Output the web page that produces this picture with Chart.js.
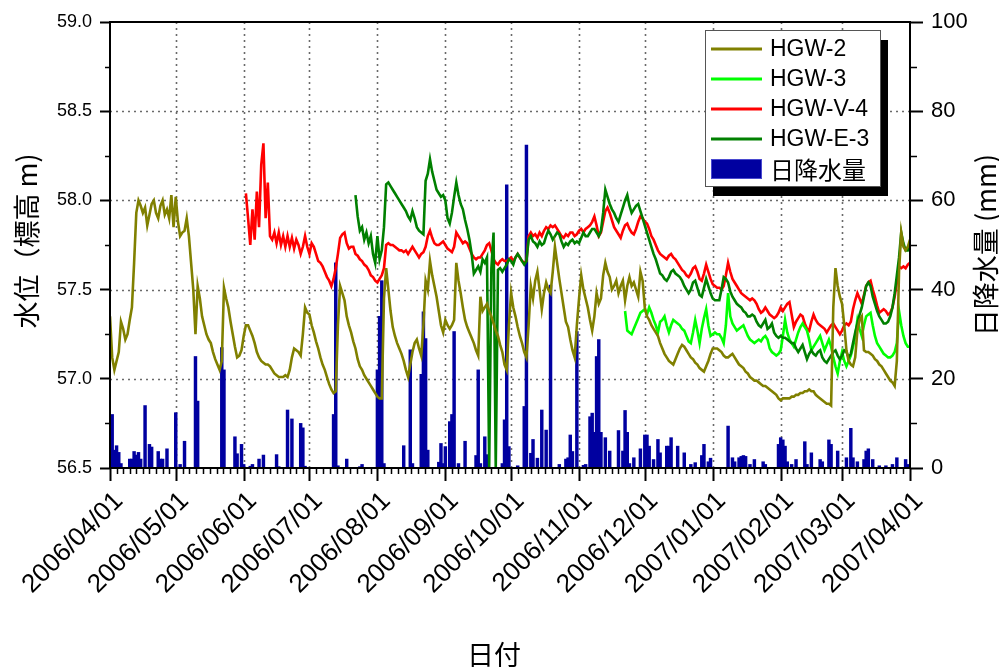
<!DOCTYPE html>
<html><head><meta charset="utf-8">
<script src="https://cdn.jsdelivr.net/npm/chart.js@4.4.1/dist/chart.umd.min.js"></script>
<style>html,body{margin:0;padding:0;background:#fff;}canvas{display:block;}</style>
</head><body>
<canvas id="c" width="999" height="671"></canvas>
<script>
// x axis: day index from 2006/04/01
const monthDays = [0,30,61,91,122,153,183,214,244,275,306,334,365];
const tickLabels = ['2006/04/01','2006/05/01','2006/06/01','2006/07/01','2006/08/01','2006/09/01','2006/10/01','2006/11/01','2006/12/01','2007/01/01','2007/02/01','2007/03/01','2007/04/01'];

const hgw2Start = 0;
const hgw2 = [
57.35,57.12,57.05,57.10,57.15,57.32,57.28,57.22,57.25,57.33,
57.40,57.65,57.93,58.00,57.97,57.93,57.96,57.86,57.92,57.98,
58.00,57.93,57.90,57.97,58.00,57.92,57.95,57.90,58.03,57.85,
58.02,57.88,57.80,57.82,57.83,57.90,57.80,57.65,57.50,57.25,
57.52,57.45,57.35,57.30,57.25,57.22,57.20,57.15,57.11,57.08,
57.05,57.10,57.51,57.45,57.40,57.32,57.25,57.18,57.12,57.13,
57.16,57.24,57.30,57.30,57.27,57.24,57.20,57.15,57.12,57.10,
57.09,57.08,57.08,57.07,57.05,57.03,57.02,57.01,57.01,57.01,
57.02,57.01,57.05,57.12,57.17,57.16,57.15,57.13,57.25,57.40,
57.37,57.36,57.30,57.26,57.21,57.17,57.12,57.08,57.05,57.01,
56.97,56.94,56.92,56.93,57.30,57.52,57.48,57.44,57.35,57.30,
57.26,57.21,57.17,57.11,57.07,57.05,57.02,57.00,56.98,56.96,
56.94,56.92,56.90,56.89,56.89,57.45,57.62,57.50,57.38,57.29,
57.24,57.20,57.17,57.14,57.10,57.05,57.01,57.08,57.15,57.20,
57.22,57.17,57.13,57.30,57.55,57.50,57.66,57.58,57.52,57.46,
57.38,57.30,57.26,57.33,57.30,57.28,57.30,57.33,57.65,57.55,
57.48,57.40,57.33,57.29,57.26,57.23,57.20,57.16,57.13,57.46,
57.38,57.40,57.42,57.38,57.35,57.31,57.27,57.24,57.19,57.15,
57.08,57.05,57.30,57.48,57.40,57.35,57.29,57.24,57.20,57.15,
57.12,57.30,57.52,57.45,57.55,57.60,57.50,57.39,57.48,57.54,
57.50,57.48,57.60,57.74,57.65,57.56,57.48,57.40,57.32,57.29,
57.22,57.16,57.12,57.30,57.45,57.58,57.50,57.45,57.40,57.33,
57.27,57.35,57.48,57.42,57.45,57.58,57.65,57.60,57.57,57.50,
57.52,57.55,57.48,57.52,57.55,57.44,57.52,57.57,57.52,57.54,
57.50,57.46,57.60,57.55,57.40,57.35,57.33,57.30,57.28,57.26,
57.24,57.20,57.17,57.14,57.12,57.10,57.09,57.08,57.11,57.14,
57.17,57.19,57.18,57.16,57.14,57.12,57.11,57.09,57.08,57.06,
57.05,57.04,57.07,57.10,57.14,57.17,57.17,57.17,57.16,57.15,
57.13,57.12,57.12,57.13,57.14,57.12,57.10,57.08,57.07,57.06,
57.04,57.03,57.01,57.00,56.99,56.99,56.98,56.97,56.96,56.96,
56.95,56.94,56.93,56.92,56.91,56.89,56.88,56.89,56.89,56.89,
56.89,56.90,56.90,56.91,56.91,56.92,56.92,56.93,56.93,56.94,
56.93,56.93,56.91,56.90,56.89,56.88,56.87,56.86,56.86,56.85,
57.40,57.62,57.52,57.46,57.42,57.30,57.16,57.10,57.08,57.07,
57.12,57.27,57.33,57.35,57.16,57.15,57.15,57.14,57.13,57.11,
57.10,57.08,57.07,57.05,57.03,57.01,56.99,56.98,56.96,57.10,
57.60,57.82,57.74,57.72,57.74,57.78];

const hgw3Start = 235;
const hgw3 = [
57.38,57.27,57.26,57.25,57.28,57.31,57.34,57.37,57.38,57.39,
57.36,57.40,57.37,57.33,57.30,57.26,57.32,57.33,57.35,57.30,
57.26,57.30,57.33,57.32,57.31,57.30,57.28,57.27,57.24,57.21,
57.20,57.26,57.33,57.27,57.20,57.28,57.34,57.39,57.30,57.24,
57.25,57.26,57.25,57.25,57.23,57.20,57.30,57.48,57.35,57.31,
57.29,57.27,57.28,57.29,57.30,57.27,57.24,57.22,57.21,57.20,
57.21,57.22,57.21,57.23,57.24,57.22,57.17,57.15,57.14,57.13,
57.14,57.16,57.24,57.33,57.26,57.22,57.20,57.18,57.22,57.26,
57.29,57.31,57.29,57.27,57.22,57.16,57.18,57.20,57.22,57.24,
57.20,57.16,57.19,57.22,57.18,57.12,57.07,57.03,57.10,57.15,
57.10,57.07,57.10,57.13,57.18,57.24,57.33,57.28,57.24,57.30,
57.35,57.36,57.37,57.30,57.24,57.20,57.18,57.16,57.14,57.13,
57.12,57.12,57.13,57.15,57.20,57.38,57.30,57.24,57.20,57.18,
57.18];

const hgwV4Start = 62;
const hgwV4 = [
58.04,57.90,57.75,57.95,57.78,58.05,57.85,58.20,58.32,57.90,
58.10,57.80,57.78,57.82,57.76,57.82,57.75,57.80,57.74,57.80,
57.74,57.79,57.73,57.78,57.75,57.70,57.74,57.80,57.74,57.70,
57.76,57.74,57.70,57.66,57.65,57.63,57.60,57.57,57.55,57.52,
57.56,57.62,57.70,57.79,57.81,57.82,57.76,57.73,57.74,57.74,
57.70,57.69,57.67,57.66,57.64,57.63,57.61,57.58,57.57,57.55,
57.54,57.56,57.58,57.62,57.75,57.76,57.75,57.75,57.74,57.73,
57.72,57.72,57.71,57.72,57.70,57.72,57.74,57.72,57.70,57.68,
57.70,57.71,57.74,57.80,57.83,57.79,57.76,57.75,57.75,57.76,
57.77,57.75,57.73,57.72,57.71,57.74,57.82,57.80,57.78,57.76,
57.77,57.76,57.73,57.70,57.68,57.67,57.68,57.68,57.70,57.72,
57.75,57.76,57.72,57.67,57.65,57.64,57.66,57.67,57.66,57.66,
57.67,57.68,57.66,57.68,57.70,57.68,57.66,57.65,57.66,57.80,
57.82,57.80,57.81,57.79,57.82,57.80,57.83,57.85,57.84,57.86,
57.85,57.86,57.84,57.82,57.80,57.79,57.81,57.80,57.82,57.82,
57.80,57.81,57.83,57.84,57.82,57.84,57.85,57.86,57.88,57.91,
57.86,57.80,57.82,57.88,57.94,57.96,57.93,57.89,57.85,57.83,
57.81,57.79,57.83,57.86,57.87,57.84,57.82,57.81,57.84,57.88,
57.91,57.90,57.88,57.87,57.84,57.80,57.78,57.75,57.72,57.70,
57.69,57.68,57.67,57.69,57.70,57.68,57.67,57.65,57.63,57.61,
57.60,57.58,57.57,57.59,57.62,57.63,57.60,57.56,57.55,57.59,
57.64,57.60,57.56,57.53,57.52,57.51,57.51,57.50,57.52,57.58,
57.65,57.60,57.56,57.54,57.52,57.50,57.48,57.47,57.46,57.45,
57.44,57.45,57.44,57.42,57.39,57.37,57.38,57.40,57.38,57.36,
57.35,57.34,57.35,57.37,57.40,57.38,57.40,57.42,57.43,57.36,
57.29,57.32,57.34,57.36,57.35,57.31,57.28,57.27,57.32,57.36,
57.33,57.31,57.30,57.29,57.28,57.26,57.28,57.30,57.31,57.29,
57.27,57.25,57.27,57.30,57.31,57.30,57.32,57.39,57.44,57.48,
57.45,57.42,57.47,57.52,57.54,57.55,57.50,57.46,57.41,57.37,
57.38,57.39,57.38,57.36,57.37,57.40,57.46,57.54,57.63,57.62,
57.63,57.62,57.64,57.65];

const hgwE3Start = 112;
const hgwE3 = [
58.03,57.91,57.83,57.85,57.78,57.82,57.76,57.80,57.70,57.65,
57.80,57.67,57.72,57.85,58.09,58.10,58.08,58.06,58.04,58.02,
58.00,57.98,57.96,57.94,57.91,57.89,57.94,57.90,57.85,57.83,
57.82,57.81,58.11,58.15,58.23,58.16,58.11,58.06,58.04,58.02,
58.03,58.00,57.90,57.87,57.93,58.02,58.10,58.03,57.98,57.95,
57.89,57.84,57.78,57.70,57.59,57.61,57.63,57.60,57.67,57.65,
57.68,56.50,57.62,57.82,56.50,57.61,57.62,57.60,57.62,57.64,
57.67,57.66,57.64,57.68,57.70,57.68,57.66,57.64,57.66,57.78,
57.80,57.77,57.76,57.74,57.77,57.75,57.76,57.80,57.83,57.81,
57.78,57.80,57.82,57.81,57.77,57.74,57.76,57.75,57.77,57.78,
57.76,57.77,57.76,57.79,57.82,57.80,57.80,57.82,57.84,57.84,
57.82,57.80,57.83,57.93,58.06,58.02,57.98,57.95,57.93,57.90,
57.88,57.92,57.96,58.00,58.03,57.97,57.93,57.95,57.97,57.98,
57.94,57.90,57.86,57.82,57.78,57.74,57.70,57.67,57.63,57.59,
57.58,57.56,57.55,57.57,57.60,57.61,57.59,57.58,57.57,57.55,
57.52,57.50,57.48,57.50,57.54,57.55,57.51,57.47,57.46,57.51,
57.56,57.52,57.48,57.45,57.44,57.44,57.44,57.50,57.57,57.56,
57.54,57.49,57.46,57.44,57.42,57.41,57.40,57.38,57.37,57.35,
57.35,57.36,57.35,57.32,57.30,57.29,57.31,57.33,57.28,57.29,
57.31,57.26,57.24,57.23,57.24,57.23,57.23,57.22,57.21,57.20,
57.20,57.17,57.15,57.17,57.19,57.15,57.11,57.14,57.16,57.14,
57.13,57.15,57.16,57.12,57.10,57.09,57.11,57.13,57.15,57.16,
57.13,57.11,57.13,57.16,57.15,57.12,57.14,57.20,57.26,57.31,
57.36,57.40,57.46,57.52,57.54,57.52,57.46,57.42,57.38,57.35,
57.33,57.31,57.31,57.32,57.35,57.40,57.48,57.58,57.68,57.82,
57.76,57.72,57.72,57.75];

// daily rainfall (mm): day index and amount
const rainDay = [0,1,2,3,4,5,9,10,11,12,13,14,16,18,19,22,23,24,26,30,32,34,39,40,51,52,57,58,60,61,64,65,68,70,76,77,81,83,87,88,89,
102,103,104,108,114,115,122,123,124,125,134,137,138,142,143,144,145,150,151,152,153,155,156,157,159,162,167,168,169,171,172,179,180,181,182,186,189,190,192,193,195,197,199,201,205,208,209,210,211,213,216,217,219,220,221,222,223,224,226,228,232,234,235,236,237,239,242,244,245,246,248,250,251,254,255,256,259,262,265,267,270,271,273,274,
282,284,285,287,288,289,290,292,294,298,299,305,306,307,308,309,311,313,317,318,320,324,325,328,329,332,336,338,339,341,344,345,346,348,351,354,357,359,363,364];
const rainMm = [1,12,4,5,3.5,1,2,2,3.7,2.9,3.5,2,14,5.3,4.7,3.7,2,2,4.3,12.4,0.8,6,25,15,27,22,7,3.2,5.3,0.8,0.4,0.8,2,2.9,3,0.3,13,11,10,9,0.4,
12,46,0.5,2,0.3,0.8,22,34,42,1,5,26.5,1,21,35,29,4,1.3,5.5,1,4.8,10.4,12,30.6,1,6,2.8,22,1,7,3,1,10.8,63.5,4.8,0.5,13.8,72.4,3.3,6.4,2.2,13,8.5,41,0.8,2,2.3,7.4,3.7,30.6,0.6,0.8,11.5,12.3,8,25,28.8,8,6.8,3.8,8.4,3.8,12.9,8,1,2.3,4.3,7.4,7.4,4.9,1.9,6.4,3.4,4.9,4.9,6.8,4.9,3.4,0.8,1.2,2.8,5.3,1.4,2.2,
9.4,2.3,1.4,2.3,2.6,2.8,2.6,0.8,1.9,1.4,0.8,5.3,6.8,6.3,4.9,1.4,0.8,1.9,5.9,0.8,3.4,1.9,1.4,6.3,5.3,3.8,2.3,8.9,2.3,1.4,1.9,3.8,4.3,1.9,0.5,0.5,0.8,2.3,1.9,0.8];

const toPts = (start, vals) => vals.map((v, i) => ({x: start + i, y: v}));
const FONT = "'Liberation Sans', Arial, 'Noto Sans CJK JP', sans-serif";
const CJK = "'Noto Sans CJK JP', 'Liberation Sans', sans-serif";

const decor = {
  id: 'decor',
  beforeDatasetsDraw(chart) {
    const {ctx, chartArea: a, scales} = chart;
    const x = scales.x, y = scales.y;
    ctx.save();
    ctx.strokeStyle = '#6a6a6a';
    ctx.lineWidth = 1.6;
    ctx.setLineDash([2, 4]);
    monthDays.forEach(d => {
      if (d <= x.min || d >= x.max) return;
      const px = Math.round(x.getPixelForValue(d)) + 0.5;
      ctx.beginPath(); ctx.moveTo(px, a.top); ctx.lineTo(px, a.bottom); ctx.stroke();
    });
    y.ticks.forEach(t => {
      if (t.value <= y.min || t.value >= y.max) return;
      const py = Math.round(y.getPixelForValue(t.value)) + 0.5;
      ctx.beginPath(); ctx.moveTo(a.left, py); ctx.lineTo(a.right, py); ctx.stroke();
    });
    ctx.restore();
  },
  afterDraw(chart) {
    const {ctx, chartArea: a, scales} = chart;
    const x = scales.x, y = scales.y, y2 = scales.y2;
    ctx.save();
    // frame
    ctx.strokeStyle = '#000';
    ctx.lineWidth = 2;
    ctx.strokeRect(a.left, a.top, a.right - a.left, a.bottom - a.top);
    // major x ticks at month starts, minor ticks (10 per month)
    ctx.lineWidth = 2;
    ctx.beginPath();
    monthDays.forEach(d => {
      const px = Math.round(x.getPixelForValue(d)) + 0.5;
      ctx.moveTo(px, a.bottom); ctx.lineTo(px, a.bottom + 13);
    });
    ctx.stroke();
    ctx.lineWidth = 1.5;
    ctx.beginPath();
    for (let i = 0; i < monthDays.length - 1; i++) {
      const d0 = monthDays[i], d1 = monthDays[i + 1];
      for (let k = 1; k < 10; k++) {
        const px = Math.round(x.getPixelForValue(d0 + (d1 - d0) * k / 10)) + 0.5;
        ctx.moveTo(px, a.bottom); ctx.lineTo(px, a.bottom + 6);
      }
    }
    for (let i = 0; i < y.ticks.length - 1; i++) {
      const v = (y.ticks[i].value + y.ticks[i + 1].value) / 2;
      const py = Math.round(y.getPixelForValue(v)) + 0.5;
      ctx.moveTo(a.left - 5, py); ctx.lineTo(a.left, py);
    }
    for (let i = 0; i < y2.ticks.length - 1; i++) {
      const v = (y2.ticks[i].value + y2.ticks[i + 1].value) / 2;
      const py = Math.round(y2.getPixelForValue(v)) + 0.5;
      ctx.moveTo(a.right, py); ctx.lineTo(a.right + 7, py);
    }
    ctx.stroke();
    // axis titles
    ctx.fillStyle = '#000';
    ctx.textAlign = 'center';
    ctx.textBaseline = 'middle';
    ctx.font = "27px " + CJK;
    ctx.save(); ctx.translate(27, (a.top + a.bottom) / 2 - 4); ctx.rotate(-Math.PI / 2);
    ctx.fillText('水位（標高 m)', 0, 0); ctx.restore();
    ctx.save(); ctx.translate(986, (a.top + a.bottom) / 2); ctx.rotate(-Math.PI / 2);
    ctx.fillText('日降水量 (mm)', 0, 0); ctx.restore();
    ctx.font = "27px " + CJK;
    ctx.fillText('日付', 494, 655);
    // legend
    const L = {x: a.right - 205, y: a.top + 8, w: 175, h: 156};
    ctx.fillStyle = '#000';
    ctx.fillRect(L.x + 8, L.y + 10, L.w, L.h);
    ctx.fillStyle = '#fff';
    ctx.fillRect(L.x, L.y, L.w, L.h);
    ctx.strokeStyle = '#555';
    ctx.lineWidth = 1;
    ctx.strokeRect(L.x + 0.5, L.y + 0.5, L.w, L.h);
    chart.data.datasets.forEach((ds, i) => {
      const cy = L.y + 19 + 30 * i;
      if (ds.type === 'bar') {
        ctx.fillStyle = ds.backgroundColor;
        ctx.fillRect(L.x + 6, cy - 10, 51, 20);
        ctx.strokeStyle = '#4a4ad0';
        ctx.lineWidth = 1;
        ctx.strokeRect(L.x + 6.5, cy - 9.5, 50, 19);
      } else {
        ctx.strokeStyle = ds.borderColor;
        ctx.lineWidth = 3;
        ctx.beginPath(); ctx.moveTo(L.x + 6, cy); ctx.lineTo(L.x + 57, cy); ctx.stroke();
      }
      ctx.fillStyle = '#000';
      ctx.textAlign = 'left';
      ctx.textBaseline = 'middle';
      ctx.font = (ds.type === 'bar' ? "24px " + CJK : "23px " + FONT);
      ctx.fillText(ds.label, L.x + 65, cy + 1);
    });
    ctx.restore();
  }
};

const lineDs = (label, start, vals, color, order) => ({
  label, data: toPts(start, vals), borderColor: color, backgroundColor: color,
  borderWidth: 2.6, pointRadius: 0, tension: 0, fill: false, yAxisID: 'y', xAxisID: 'x', order
});

new Chart(document.getElementById('c'), {
  type: 'line',
  data: {
    datasets: [
      lineDs('HGW-2', hgw2Start, hgw2, '#808000', 1),
      lineDs('HGW-3', hgw3Start, hgw3, '#00FF00', 3),
      lineDs('HGW-V-4', hgwV4Start, hgwV4, '#FF0000', 4),
      lineDs('HGW-E-3', hgwE3Start, hgwE3, '#008000', 2),
      {type: 'bar', label: '日降水量', data: rainDay.map((d, i) => ({x: d, y: rainMm[i]})),
       backgroundColor: '#0000A0', borderWidth: 0, barThickness: 2.8, yAxisID: 'y2', xAxisID: 'x', order: 10}
    ]
  },
  options: {
    responsive: false, animation: false, devicePixelRatio: 1,
    layout: {padding: {top: 22, left: 0, right: 0, bottom: 0}},
    plugins: {legend: {display: false}, tooltip: {enabled: false}, title: {display: false}},
    scales: {
      x: {
        type: 'linear', position: 'bottom', min: 0, max: 365, offset: false,
        afterBuildTicks: s => { s.ticks = monthDays.map(v => ({value: v})); },
        ticks: {callback: (v, i) => tickLabels[i], autoSkip: false, minRotation: 45, maxRotation: 45,
                font: {family: FONT, size: 26}, color: '#000', padding: 18, labelOffset: 9},
        grid: {drawOnChartArea: false, drawTicks: false},
        border: {display: false},
        afterFit: s => { s.height = 203; s.paddingLeft = 0; s.paddingRight = 0; }
      },
      y: {
        type: 'linear', position: 'left', min: 56.5, max: 59.0,
        ticks: {stepSize: 0.5, callback: v => Number(v).toFixed(1), font: {family: FONT, size: 18}, color: '#000', padding: 8},
        grid: {drawOnChartArea: false, drawTicks: true, tickLength: 10, tickColor: '#000', tickWidth: 2},
        border: {display: false},
        afterFit: s => { s.width = 110; }
      },
      y2: {
        type: 'linear', position: 'right', min: 0, max: 100,
        ticks: {stepSize: 20, font: {family: FONT, size: 22}, color: '#000', padding: 8},
        grid: {drawOnChartArea: false, drawTicks: true, tickLength: 13, tickColor: '#000', tickWidth: 2},
        border: {display: false},
        afterFit: s => { s.width = 89; }
      }
    }
  },
  plugins: [decor]
});
</script>
</body></html>
